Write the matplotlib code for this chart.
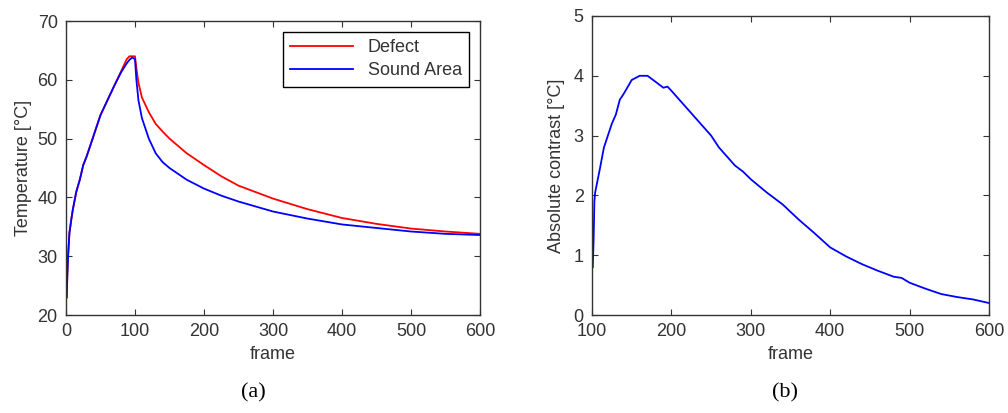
import numpy as np
import matplotlib.pyplot as plt

plt.rcParams['font.family'] = ['Liberation Sans', 'DejaVu Sans']

# (a) temperature curves
frames_a = [1, 2, 3, 5, 8, 10, 15, 20, 25, 30, 40, 50, 60, 70, 80, 88, 92, 96, 100,
            102, 105, 110, 120, 130, 140, 150, 175, 200, 225, 250, 300, 350, 400,
            450, 500, 550, 600]
defect = [23, 27, 30, 34, 36.5, 38, 41, 43, 45.5, 47, 50.5, 54, 56.5, 59, 61.5, 63.5,
          64, 64, 64, 62, 59.5, 57, 54.5, 52.5, 51.2, 50, 47.5, 45.5, 43.6, 42, 39.8,
          38, 36.5, 35.5, 34.7, 34.2, 33.8]
sound = [23, 27, 30, 34, 36.5, 38, 41, 43, 45.5, 47, 50.5, 54, 56.5, 59, 61.3, 62.8,
         63.4, 63.8, 63.5, 60, 56.5, 53.5, 50, 47.5, 46, 45, 43, 41.5, 40.3, 39.3,
         37.6, 36.4, 35.4, 34.8, 34.2, 33.8, 33.6]

# (b) absolute contrast
frames_b = [101, 102, 103, 104, 107, 110, 115, 120, 125, 130, 135, 140, 150, 160, 170,
            180, 190, 195, 200, 210, 220, 230, 240, 250, 260, 270, 280, 290, 300, 320,
            340, 360, 380, 400, 420, 440, 460, 480, 490, 500, 520, 540, 560, 580, 600]
contrast = [0.8, 1.25, 1.9, 2.05, 2.25, 2.45, 2.8, 3.0, 3.2, 3.35, 3.6, 3.7, 3.93, 4.0,
            4.0, 3.9, 3.8, 3.82, 3.75, 3.6, 3.45, 3.3, 3.15, 3.0, 2.8, 2.65, 2.5, 2.4,
            2.27, 2.05, 1.85, 1.6, 1.37, 1.13, 0.98, 0.85, 0.74, 0.64, 0.62, 0.54, 0.44,
            0.35, 0.3, 0.26, 0.2]

fig = plt.figure(figsize=(10.08, 4.13), dpi=100)
ax1 = fig.add_axes([66/1008, 1-315/413, 414/1008, 294/413])
ax2 = fig.add_axes([592/1008, 1-315/413, 397/1008, 299/413])

tick_col = '#333333'
for ax in (ax1, ax2):
    ax.tick_params(direction='in', top=True, right=True, length=4,
                   labelsize=13, colors=tick_col)
    ax.tick_params(axis='x', pad=6)
    ax.tick_params(axis='y', pad=6)
    for s in ax.spines.values():
        s.set_color('#333333')
        s.set_linewidth(1.0)

ax1.plot(frames_a, defect, color='red', lw=1.3, label='Defect')
ax1.plot(frames_a, sound, color='blue', lw=1.3, label='Sound Area')
ax1.set_xlim(0, 600)
ax1.set_ylim(20, 70)
ax1.set_xticks(range(0, 601, 100))
ax1.set_yticks(range(20, 71, 10))
ax1.set_xlabel('frame', fontsize=13, color=tick_col, labelpad=4)
ax1.set_ylabel('Temperature [°C]', fontsize=13, color=tick_col, labelpad=4)
leg = ax1.legend(loc='upper right', fontsize=13, fancybox=False, framealpha=1,
                 edgecolor='black', borderaxespad=0.6, handlelength=3.5,
                 labelspacing=0.35)
leg.get_frame().set_linewidth(1.0)
for t in leg.get_texts():
    t.set_color(tick_col)

ax2.plot(frames_b, contrast, color='blue', lw=1.3)
ax2.set_xlim(100, 600)
ax2.set_ylim(0, 5)
ax2.set_xticks(range(100, 601, 100))
ax2.set_yticks(range(0, 6))
ax2.set_xlabel('frame', fontsize=13, color=tick_col, labelpad=4)
ax2.set_ylabel('Absolute contrast [°C]', fontsize=13, color=tick_col, labelpad=6)

fig.text(253/1008, 1-393/413, '(a)', fontsize=16, family='Liberation Serif',
         ha='center', va='center')
fig.text(785/1008, 1-393/413, '(b)', fontsize=16, family='Liberation Serif',
         ha='center', va='center')

fig.savefig('out.png', dpi=100)
